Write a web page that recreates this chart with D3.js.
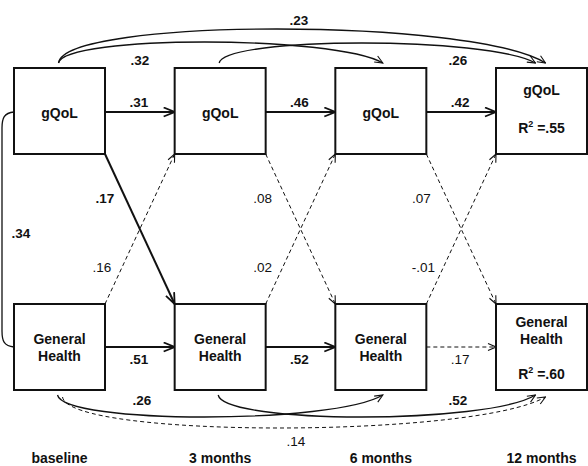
<!DOCTYPE html>
<html>
<head>
<meta charset="utf-8">
<script src="https://cdn.jsdelivr.net/npm/d3@7"></script>
<style>
  body { margin: 0; background: #fff; }
  text { font-family: Arial, "Liberation Sans", sans-serif; fill: #111; }
</style>
</head>
<body>
<div id="chart"></div>
<script>
// time points and constructs
const timepoints = ["baseline", "3 months", "6 months", "12 months"];
const constructs = ["gQoL", "General Health"];

// lag-1 stability paths (t -> t+1)
const gqolLag1 = [".31", ".46", ".42"];
const gqolLag1Sig = [true, true, true];
const healthLag1 = [".51", ".52", ".17"];
const healthLag1Sig = [true, true, false];

// cross-lagged paths
const qolToHealth = [".17", ".08", ".07"];
const qolToHealthSig = [true, false, false];
const healthToQol = [".16", ".02", "-.01"];
const healthToQolSig = [false, false, false];

// longer-range paths: [from, to, value, significant]
const gqolLong = [[0, 2, ".32", true], [0, 3, ".23", true], [1, 3, ".26", true]];
const healthLong = [[0, 2, ".26", true], [1, 3, ".52", true], [0, 3, ".14", false]];

const baselineCov = ".34";
const rSquared = [".55", ".60"];

function init() {
    const width = 588, height = 466;
    const boxW = 91, boxH = 86;

    const x = d3.scaleLinear().domain([0, 3]).range([14, 496]);   // box left edge
    const y = d3.scalePoint().domain(constructs).range([68, 304]); // box top edge
    const cx = i => x(i) + boxW / 2;

    const svg = d3.select("#chart").append("svg")
        .attr("width", width).attr("height", height);

    // arrowheads
    const defs = svg.append("defs");
    [["thick", 11, 9, 1.8], ["thin", 8, 7, 1.1]].forEach(([id, len, w, sw]) => {
        defs.append("marker")
            .attr("id", "arr-" + id)
            .attr("markerUnits", "userSpaceOnUse")
            .attr("viewBox", `-1 -1 ${len + 2} ${w + 2}`)
            .attr("refX", len).attr("refY", w / 2)
            .attr("markerWidth", len + 2).attr("markerHeight", w + 2)
            .attr("orient", "auto")
            .append("path")
            .attr("d", `M0,0 L${len},${w / 2} L0,${w}`)
            .attr("fill", "none").attr("stroke", "#111")
            .attr("stroke-width", sw)
            .attr("stroke-dasharray", "none");
    });

    const styleLine = (sel, sig, bold) => sel
        .attr("fill", "none")
        .attr("stroke", "#111")
        .attr("stroke-width", sig ? (bold ? 2 : 1.3) : 1)
        .attr("stroke-dasharray", sig ? null : "4,3")
        .attr("marker-end", sig && bold ? "url(#arr-thick)" : "url(#arr-thin)");

    const label = (tx, ty, txt, bold) => svg.append("text")
        .attr("x", tx).attr("y", ty)
        .attr("text-anchor", "middle")
        .attr("font-size", 13.5)
        .attr("font-weight", bold ? "bold" : "normal")
        .text(txt);

    // horizontal lag-1 paths
    [[constructs[0], gqolLag1, gqolLag1Sig, 107], [constructs[1], healthLag1, healthLag1Sig, 364]]
        .forEach(([c, vals, sig, ly]) => {
            vals.forEach((v, i) => {
                const yy = y(c) + (c === constructs[0] ? 44 : 43);
                svg.append("line")
                    .attr("x1", x(i) + boxW).attr("y1", yy)
                    .attr("x2", x(i + 1)).attr("y2", yy)
                    .call(styleLine, sig[i], true);
                label((x(i) + boxW + x(i + 1)) / 2 - 1, ly, v, sig[i]);
            });
        });

    // cross-lagged paths
    qolToHealth.forEach((v, i) => {
        svg.append("line")
            .attr("x1", x(i) + boxW).attr("y1", y(constructs[0]) + boxH)
            .attr("x2", x(i + 1)).attr("y2", y(constructs[1]))
            .call(styleLine, qolToHealthSig[i], true);
        label(x(i) + boxW - (i === 2 ? 5 : i === 1 ? 3 : 0), 203, v, qolToHealthSig[i]);
    });
    healthToQol.forEach((v, i) => {
        svg.append("line")
            .attr("x1", x(i) + boxW).attr("y1", y(constructs[1]))
            .attr("x2", x(i + 1)).attr("y2", y(constructs[0]) + boxH)
            .call(styleLine, healthToQolSig[i], true);
        label(x(i) + boxW - 3, 272, v, healthToQolSig[i]);
    });

    // long-range curved paths
    const topY = y(constructs[0]) - 5, botY = y(constructs[1]) + boxH + 5;
    const apexTop = { "0-2": 42, "0-3": 29, "1-3": 43 };
    const apexBot = { "0-2": 417, "1-3": 417, "0-3": 428 };
    const endShift = { "0-3": 4, "1-3": -6, "0-2": 2 };
    const curve = (x0, x1, yb, apex) => {
        const cy = yb + (apex - yb) / 0.75;
        const L = x1 - x0;
        return `M${x0},${yb} C${x0 + 6},${cy} ${x1 - L * 0.15},${cy} ${x1},${yb}`;
    };
    const longLabelTop = { ".32": [140, 65], ".23": [299, 25], ".26": [458, 65] };
    const longLabelBot = { ".26": [142, 405], ".52": [458, 405], ".14": [296, 446] };

    gqolLong.forEach(([a, b, v, sig]) => {
        const k = a + "-" + b;
        svg.append("path")
            .attr("d", curve(cx(a) - 1, cx(b) + endShift[k], topY, apexTop[k]))
            .call(styleLine, sig, false);
        label(longLabelTop[v][0], longLabelTop[v][1], v, sig);
    });
    healthLong.forEach(([a, b, v, sig]) => {
        const k = a + "-" + b;
        const x0 = cx(a) + (sig ? -2 : 3);
        svg.append("path")
            .attr("d", curve(x0, cx(b) + endShift[k], botY + (sig ? 0 : 2), apexBot[k]))
            .call(styleLine, sig, false);
        label(longLabelBot[v][0], longLabelBot[v][1], v, sig);
    });

    // baseline covariance bracket
    const yA = y(constructs[0]) + 44, yB = y(constructs[1]) + 43, xl = x(0);
    svg.append("path")
        .attr("d", `M${xl},${yA} C${xl - 10},${yA + 1} ${xl - 12},${yA + 6} ${xl - 12},${yA + 16}
                    L${xl - 12},${yB - 16} C${xl - 12},${yB - 6} ${xl - 10},${yB - 1} ${xl},${yB}`)
        .attr("fill", "none").attr("stroke", "#111").attr("stroke-width", 1.3);
    label(21, 238, baselineCov, true);

    // boxes
    const cells = [];
    constructs.forEach((c, r) => timepoints.forEach((t, i) => cells.push({ c, r, i })));
    const g = svg.selectAll("g.box").data(cells).join("g").attr("class", "box");
    g.append("rect")
        .attr("x", d => x(d.i)).attr("y", d => y(d.c))
        .attr("width", boxW).attr("height", boxH)
        .attr("fill", "#fff").attr("stroke", "#111").attr("stroke-width", 2);

    g.each(function(d) {
        const sel = d3.select(this);
        const last = d.i === timepoints.length - 1;
        const words = d.c.split(" ");
        const top = y(d.c);
        let ys;
        if (words.length === 1) ys = [last ? top + 27 : top + 50];
        else ys = last ? [top + 23, top + 40] : [top + 40, top + 57];
        words.forEach((w, j) => sel.append("text")
            .attr("x", cx(d.i)).attr("y", ys[j])
            .attr("text-anchor", "middle")
            .attr("font-size", 14).attr("font-weight", "bold")
            .text(w));
        if (last) {
            const t = sel.append("text")
                .attr("x", cx(d.i)).attr("y", top + (d.r === 0 ? 65 : 75))
                .attr("text-anchor", "middle")
                .attr("font-size", 14).attr("font-weight", "bold");
            t.append("tspan").text("R");
            t.append("tspan").attr("dy", -6).attr("font-size", 9).text("2");
            t.append("tspan").attr("dy", 6).text(" =" + rSquared[d.r]);
        }
    });

    // time point labels
    svg.selectAll("text.time").data(timepoints).join("text")
        .attr("class", "time")
        .attr("x", (d, i) => cx(i))
        .attr("y", 463)
        .attr("text-anchor", "middle")
        .attr("font-size", 14).attr("font-weight", "bold")
        .text(d => d);
}

window.onload = init;
</script>
</body>
</html>
